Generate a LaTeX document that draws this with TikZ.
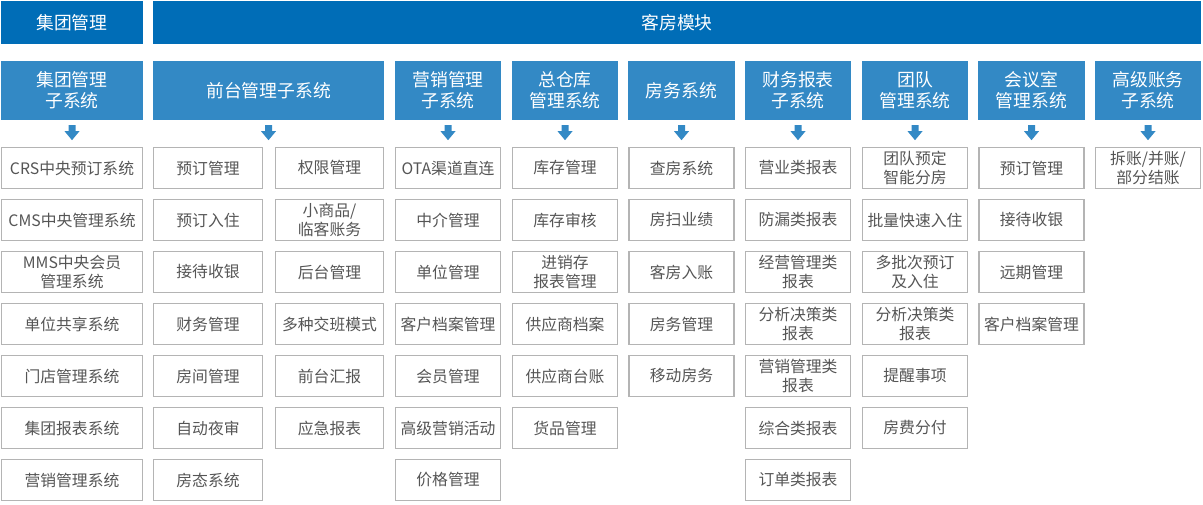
\documentclass[tikz,border=0pt]{standalone}
\usepackage{fontspec}
\setmainfont{Noto Sans CJK SC}
\usepackage{xcolor}

\definecolor{topblue}{HTML}{006DB7}
\definecolor{subblue}{HTML}{3389C5}
\definecolor{boxgray}{HTML}{B4B4B4}
\definecolor{txtgray}{HTML}{555555}

\tikzset{
  topbox/.style={fill=topblue, text=white, minimum height=43pt, inner sep=0pt,
    font=\fontsize{17.8}{20}\selectfont},
  subbox/.style={fill=subblue, text=white, minimum width=106.5pt, minimum height=59pt,
    inner sep=0pt, align=center, font=\fontsize{17.8}{21}\selectfont},
  itembox/.style={draw=boxgray, line width=1.3pt, text=txtgray, minimum width=105pt,
    minimum height=41pt, inner sep=0pt, align=center, font=\fontsize{15.8}{18.5}\selectfont},
  downarrow/.style={fill=subblue}
}

% block arrow hanging under a header node (yscale=-1, so +y goes down)
\newcommand{\hdarrow}[1]{%
  \fill[downarrow] ([shift={(-3.5,5)}]#1.south) -- ([shift={(3.5,5)}]#1.south)
    -- ([shift={(3.5,11)}]#1.south) -- ([shift={(7.5,11)}]#1.south)
    -- ([shift={(0,20)}]#1.south) -- ([shift={(-7.5,11)}]#1.south)
    -- ([shift={(-3.5,11)}]#1.south) -- cycle;}

\begin{document}
\begin{tikzpicture}[x=1pt,y=1pt,yscale=-1,xscale=1]
\useasboundingbox (0,0) rectangle (1203,505);

% top bars
\node[topbox, minimum width=142pt] (top1) at (72,22.5) {集团管理};
\node[topbox, minimum width=1048pt] (top2) at (677,22.5) {客房模块};

% sub system headers
\node[subbox, minimum width=142pt] (h1) at (72,90.5) {集团管理\\子系统};
\node[subbox, minimum width=231pt] (h2) at (268.5,90.5) {前台管理子系统};
\node[subbox] (h3) at (448,90.5) {营销管理\\子系统};
\node[subbox] (h4) at (565,90.5) {总仓库\\管理系统};
\node[subbox] (h5) at (681.5,90.5) {房务系统};
\node[subbox] (h6) at (798,90.5) {财务报表\\子系统};
\node[subbox] (h7) at (915,90.5) {团队\\管理系统};
\node[subbox] (h8) at (1031.5,90.5) {会议室\\管理系统};
\node[subbox] (h9) at (1148,90.5) {高级账务\\子系统};

% arrows under headers
\hdarrow{h1} \hdarrow{h2} \hdarrow{h3}
\hdarrow{h4} \hdarrow{h5} \hdarrow{h6}
\hdarrow{h7} \hdarrow{h8} \hdarrow{h9}

% group column
\node[itembox, minimum width=141pt] (grp1) at (72,168) {CRS中央预订系统};
\node[itembox, minimum width=141pt] (grp2) at (72,220) {CMS中央管理系统};
\node[itembox, minimum width=141pt] (grp3) at (72,272) {MMS中央会员\\管理系统};
\node[itembox, minimum width=141pt] (grp4) at (72,324) {单位共享系统};
\node[itembox, minimum width=141pt] (grp5) at (72,376) {门店管理系统};
\node[itembox, minimum width=141pt] (grp6) at (72,428) {集团报表系统};
\node[itembox, minimum width=141pt] (grp7) at (72,480) {营销管理系统};

% front desk, left
\node[itembox, minimum width=109pt] (fdA1) at (208,168) {预订管理};
\node[itembox, minimum width=109pt] (fdA2) at (208,220) {预订入住};
\node[itembox, minimum width=109pt] (fdA3) at (208,272) {接待收银};
\node[itembox, minimum width=109pt] (fdA4) at (208,324) {财务管理};
\node[itembox, minimum width=109pt] (fdA5) at (208,376) {房间管理};
\node[itembox, minimum width=109pt] (fdA6) at (208,428) {自动夜审};
\node[itembox, minimum width=109pt] (fdA7) at (208,480) {房态系统};

% front desk, right
\node[itembox, minimum width=108pt] (fdB1) at (329.5,168) {权限管理};
\node[itembox, minimum width=108pt] (fdB2) at (329.5,220) {小商品/\\临客账务};
\node[itembox, minimum width=108pt] (fdB3) at (329.5,272) {后台管理};
\node[itembox, minimum width=108pt] (fdB4) at (329.5,324) {多种交班模式};
\node[itembox, minimum width=108pt] (fdB5) at (329.5,376) {前台汇报};
\node[itembox, minimum width=108pt] (fdB6) at (329.5,428) {应急报表};

% marketing
\node[itembox] (mkt1) at (448,168) {OTA渠道直连};
\node[itembox] (mkt2) at (448,220) {中介管理};
\node[itembox] (mkt3) at (448,272) {单位管理};
\node[itembox] (mkt4) at (448,324) {客户档案管理};
\node[itembox] (mkt5) at (448,376) {会员管理};
\node[itembox] (mkt6) at (448,428) {高级营销活动};
\node[itembox] (mkt7) at (448,480) {价格管理};

% warehouse
\node[itembox] (wh1) at (565,168) {库存管理};
\node[itembox] (wh2) at (565,220) {库存审核};
\node[itembox] (wh3) at (565,272) {进销存\\报表管理};
\node[itembox] (wh4) at (565,324) {供应商档案};
\node[itembox] (wh5) at (565,376) {供应商台账};
\node[itembox] (wh6) at (565,428) {货品管理};

% housekeeping
\node[itembox] (hk1) at (681.5,168) {查房系统};
\node[itembox] (hk2) at (681.5,220) {房扫业绩};
\node[itembox] (hk3) at (681.5,272) {客房入账};
\node[itembox] (hk4) at (681.5,324) {房务管理};
\node[itembox] (hk5) at (681.5,376) {移动房务};

% finance reports
\node[itembox] (fin1) at (798,168) {营业类报表};
\node[itembox] (fin2) at (798,220) {防漏类报表};
\node[itembox] (fin3) at (798,272) {经营管理类\\报表};
\node[itembox] (fin4) at (798,324) {分析决策类\\报表};
\node[itembox] (fin5) at (798,376) {营销管理类\\报表};
\node[itembox] (fin6) at (798,428) {综合类报表};
\node[itembox] (fin7) at (798,480) {订单类报表};

% team
\node[itembox] (team1) at (915,168) {团队预定\\智能分房};
\node[itembox] (team2) at (915,220) {批量快速入住};
\node[itembox] (team3) at (915,272) {多批次预订\\及入住};
\node[itembox] (team4) at (915,324) {分析决策类\\报表};
\node[itembox] (team5) at (915,376) {提醒事项};
\node[itembox] (team6) at (915,428) {房费分付};

% meeting room
\node[itembox] (meet1) at (1031.5,168) {预订管理};
\node[itembox] (meet2) at (1031.5,220) {接待收银};
\node[itembox] (meet3) at (1031.5,272) {远期管理};
\node[itembox] (meet4) at (1031.5,324) {客户档案管理};

% accounts
\node[itembox] (acct1) at (1148,168) {拆账/并账/\\部分结账};

\end{tikzpicture}
\end{document}
